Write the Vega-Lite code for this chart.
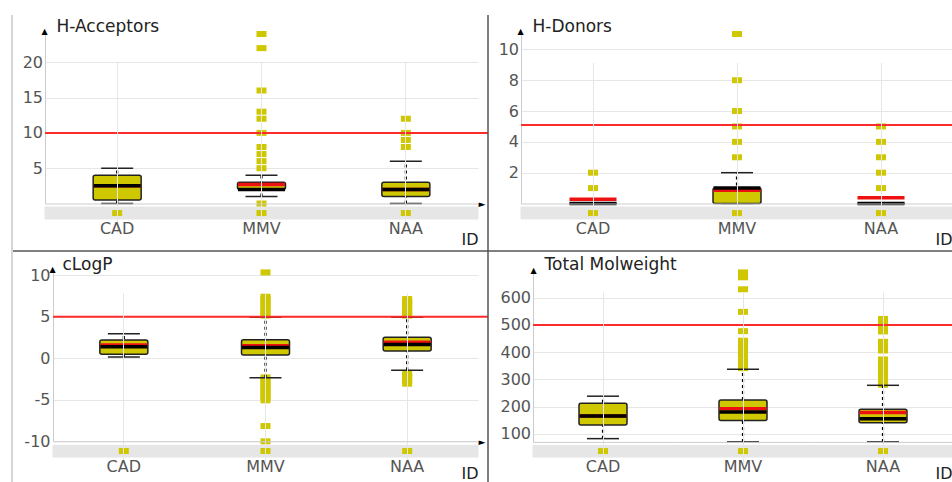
{
  "$schema": "https://vega.github.io/schema/vega-lite/v6.json",
  "padding": {"left": 11, "top": 14, "right": 0, "bottom": 0},
  "config": {
    "view": {"stroke": null},
    "font": "DejaVu Sans",
    "axis": {
      "labelFont": "DejaVu Sans", "labelFontSize": 16, "labelColor": "#555555",
      "titleFont": "DejaVu Sans", "titleFontWeight": "normal", "titleColor": "#222222", "titleFontSize": 17,
      "domainColor": "#cccccc", "domainWidth": 1, "gridColor": "#e6e6e6", "gridWidth": 1,
      "ticks": false, "tickSize": 0, "labelFlush": false, "labelOverlap": false
    }
  },
  "datasets": {
    "ids": [{"ID": "CAD"}, {"ID": "MMV"}, {"ID": "NAA"}],
    "stats": [
      {"p": "acc", "ID": "CAD", "lo": 0, "q1": 0.5, "med": 2.5, "mean": 2.5, "q3": 4, "hi": 5},
      {"p": "acc", "ID": "MMV", "lo": 1, "q1": 2, "med": 2, "mean": 2.7, "q3": 3, "hi": 4},
      {"p": "acc", "ID": "NAA", "lo": 0, "q1": 1, "med": 2, "mean": 2, "q3": 3, "hi": 6},
      {"p": "don", "ID": "CAD", "lo": 0, "q1": 0, "med": 0, "mean": 0.27, "q3": 0, "hi": 0},
      {"p": "don", "ID": "MMV", "lo": 0, "q1": 0, "med": 1, "mean": 0.86, "q3": 1, "hi": 2},
      {"p": "don", "ID": "NAA", "lo": 0, "q1": 0, "med": 0, "mean": 0.38, "q3": 0, "hi": 0},
      {"p": "logp", "ID": "CAD", "lo": 0.15, "q1": 0.48, "med": 1.4, "mean": 1.6, "q3": 2.2, "hi": 2.95},
      {"p": "logp", "ID": "MMV", "lo": -2.35, "q1": 0.4, "med": 1.3, "mean": 1.5, "q3": 2.25, "hi": 4.95},
      {"p": "logp", "ID": "NAA", "lo": -1.45, "q1": 0.88, "med": 1.65, "mean": 1.95, "q3": 2.55, "hi": 4.95},
      {"p": "mw", "ID": "CAD", "lo": 82, "q1": 132, "med": 165, "mean": 165, "q3": 212, "hi": 238},
      {"p": "mw", "ID": "MMV", "lo": 70, "q1": 149, "med": 180, "mean": 192, "q3": 224, "hi": 337},
      {"p": "mw", "ID": "NAA", "lo": 70, "q1": 140, "med": 155, "mean": 178, "q3": 190, "hi": 278}
    ],
    "outl": [
      {"p": "acc", "ID": "MMV", "v": 0}, {"p": "acc", "ID": "MMV", "v": 5}, {"p": "acc", "ID": "MMV", "v": 6},
      {"p": "acc", "ID": "MMV", "v": 7}, {"p": "acc", "ID": "MMV", "v": 8}, {"p": "acc", "ID": "MMV", "v": 10},
      {"p": "acc", "ID": "MMV", "v": 12}, {"p": "acc", "ID": "MMV", "v": 13}, {"p": "acc", "ID": "MMV", "v": 16},
      {"p": "acc", "ID": "MMV", "v": 22}, {"p": "acc", "ID": "MMV", "v": 24},
      {"p": "acc", "ID": "NAA", "v": 8}, {"p": "acc", "ID": "NAA", "v": 9}, {"p": "acc", "ID": "NAA", "v": 10},
      {"p": "acc", "ID": "NAA", "v": 12},
      {"p": "don", "ID": "CAD", "v": 1}, {"p": "don", "ID": "CAD", "v": 2},
      {"p": "don", "ID": "MMV", "v": 3}, {"p": "don", "ID": "MMV", "v": 4}, {"p": "don", "ID": "MMV", "v": 5},
      {"p": "don", "ID": "MMV", "v": 6}, {"p": "don", "ID": "MMV", "v": 8}, {"p": "don", "ID": "MMV", "v": 11},
      {"p": "don", "ID": "NAA", "v": 1}, {"p": "don", "ID": "NAA", "v": 2}, {"p": "don", "ID": "NAA", "v": 3},
      {"p": "don", "ID": "NAA", "v": 4}, {"p": "don", "ID": "NAA", "v": 5},
      {"p": "logp", "ID": "MMV", "v": 5.15}, {"p": "logp", "ID": "MMV", "v": 5.45}, {"p": "logp", "ID": "MMV", "v": 5.75},
      {"p": "logp", "ID": "MMV", "v": 6.05}, {"p": "logp", "ID": "MMV", "v": 6.35}, {"p": "logp", "ID": "MMV", "v": 6.65},
      {"p": "logp", "ID": "MMV", "v": 6.95}, {"p": "logp", "ID": "MMV", "v": 7.2}, {"p": "logp", "ID": "MMV", "v": 7.42},
      {"p": "logp", "ID": "MMV", "v": 10.35},
      {"p": "logp", "ID": "MMV", "v": -2.3}, {"p": "logp", "ID": "MMV", "v": -2.6}, {"p": "logp", "ID": "MMV", "v": -2.9},
      {"p": "logp", "ID": "MMV", "v": -3.2}, {"p": "logp", "ID": "MMV", "v": -3.5}, {"p": "logp", "ID": "MMV", "v": -3.8},
      {"p": "logp", "ID": "MMV", "v": -4.1}, {"p": "logp", "ID": "MMV", "v": -4.4}, {"p": "logp", "ID": "MMV", "v": -4.7},
      {"p": "logp", "ID": "MMV", "v": -5.06}, {"p": "logp", "ID": "MMV", "v": -8.16}, {"p": "logp", "ID": "MMV", "v": -10},
      {"p": "logp", "ID": "NAA", "v": 5.15}, {"p": "logp", "ID": "NAA", "v": 5.45}, {"p": "logp", "ID": "NAA", "v": 5.75},
      {"p": "logp", "ID": "NAA", "v": 6.05}, {"p": "logp", "ID": "NAA", "v": 6.35}, {"p": "logp", "ID": "NAA", "v": 6.65},
      {"p": "logp", "ID": "NAA", "v": 6.9}, {"p": "logp", "ID": "NAA", "v": 7.14},
      {"p": "logp", "ID": "NAA", "v": -1.77}, {"p": "logp", "ID": "NAA", "v": -2.1}, {"p": "logp", "ID": "NAA", "v": -2.4},
      {"p": "logp", "ID": "NAA", "v": -2.75}, {"p": "logp", "ID": "NAA", "v": -3.06},
      {"p": "mw", "ID": "MMV", "v": 341}, {"p": "mw", "ID": "MMV", "v": 356}, {"p": "mw", "ID": "MMV", "v": 371},
      {"p": "mw", "ID": "MMV", "v": 386}, {"p": "mw", "ID": "MMV", "v": 401}, {"p": "mw", "ID": "MMV", "v": 416},
      {"p": "mw", "ID": "MMV", "v": 431}, {"p": "mw", "ID": "MMV", "v": 442}, {"p": "mw", "ID": "MMV", "v": 477},
      {"p": "mw", "ID": "MMV", "v": 548}, {"p": "mw", "ID": "MMV", "v": 631}, {"p": "mw", "ID": "MMV", "v": 675},
      {"p": "mw", "ID": "MMV", "v": 684}, {"p": "mw", "ID": "MMV", "v": 693},
      {"p": "mw", "ID": "NAA", "v": 280}, {"p": "mw", "ID": "NAA", "v": 295}, {"p": "mw", "ID": "NAA", "v": 310},
      {"p": "mw", "ID": "NAA", "v": 325}, {"p": "mw", "ID": "NAA", "v": 340}, {"p": "mw", "ID": "NAA", "v": 356},
      {"p": "mw", "ID": "NAA", "v": 373}, {"p": "mw", "ID": "NAA", "v": 406}, {"p": "mw", "ID": "NAA", "v": 421},
      {"p": "mw", "ID": "NAA", "v": 438}, {"p": "mw", "ID": "NAA", "v": 476}, {"p": "mw", "ID": "NAA", "v": 491},
      {"p": "mw", "ID": "NAA", "v": 506}, {"p": "mw", "ID": "NAA", "v": 522}
    ]
  },
  "columns": 3,
  "spacing": 0,
  "bounds": "flush",
  "resolve": {"scale": {"x": "independent", "y": "independent"}},
  "concat": [
    {
      "width": 1, "height": 236,
      "data": {"values": []},
      "mark": "point",
      "view": {"stroke": "#c8c8c8", "strokeWidth": 1.5, "strokeDash": [0, 238, 236]}
    },
    {
      "width": 475, "height": 236,
      "view": {"stroke": "#555555", "strokeWidth": 1.5, "strokeDash": [0, 711, 475, 236]},
      "resolve": {"axis": {"x": "independent", "y": "independent"}},
      "layer": [
        {
          "data": {"name": "ids"},
          "mark": {"type": "rect", "color": "#e6e6e6", "stroke": "#e6e6e6", "strokeWidth": 1},
          "encoding": {
            "x": {"field": "ID", "type": "nominal",
              "scale": {"type": "band", "domain": ["CAD", "MMV", "NAA"], "range": [32, 465], "paddingInner": 0, "paddingOuter": 0},
              "axis": {"orient": "bottom", "offset": -47.5, "grid": true, "bandPosition": 0.5, "labelAngle": 0, "labelPadding": 16.5,
                "title": "ID", "titleFontSize": 16, "titleFontWeight": "normal", "titleX": 465, "titleY": 40.5, "titleAlign": "right", "titleBaseline": "alphabetic"}},
            "y": {"datum": -0.5, "type": "quantitative",
              "scale": {"domain": [0, 24], "range": [188.5, 19], "nice": false, "zero": false},
              "axis": {"orient": "left", "offset": -32, "values": [5, 10, 15, 20], "grid": true, "labelPadding": 2.5,
                "title": "H-Acceptors", "titleFontWeight": "normal", "titleAngle": 0, "titleX": 11, "titleY": 16, "titleAlign": "left", "titleBaseline": "alphabetic"}},
            "y2": {"datum": -2.2}
          }
        },
        {
          "data": {"name": "ids"},
          "mark": {"type": "point", "shape": "M-1,-0.6H1V0.6H-1Z", "size": 100, "filled": true, "color": "#cfc700", "opacity": 1},
          "encoding": {
            "x": {"field": "ID", "type": "nominal",
              "axis": {"orient": "bottom", "offset": -47.5, "labels": false, "domain": false, "grid": false,
                "title": "►", "titleFontWeight": "normal", "titleFontSize": 9, "titleColor": "#000000", "titleX": 465, "titleY": 0, "titleAlign": "left", "titleBaseline": "middle"}},
            "y": {"datum": -1.35, "type": "quantitative",
              "axis": {"orient": "left", "offset": -32, "labels": false, "domain": false, "grid": false,
                "title": "▲", "titleFontWeight": "normal", "titleFontSize": 8, "titleColor": "#000000", "titleAngle": 0, "titleX": -1, "titleY": 18.7, "titleAlign": "center", "titleBaseline": "alphabetic"}}
          }
        },
        {
          "data": {"name": "outl"},
          "transform": [{"filter": "datum.p == 'acc'"}],
          "mark": {"type": "point", "shape": "M-1,-0.6H1V0.6H-1Z", "size": 100, "filled": true, "color": "#cfc700", "opacity": 1},
          "encoding": {"x": {"field": "ID", "type": "nominal", "axis": null}, "y": {"field": "v", "type": "quantitative", "axis": null}}
        },
        {
          "data": {"name": "stats"},
          "transform": [{"filter": "datum.p == 'acc'"}],
          "layer": [
            {"mark": {"type": "rule", "color": "#000000", "strokeWidth": 2.2, "strokeDash": [3, 3]},
             "encoding": {"x": {"field": "ID", "type": "nominal", "axis": null}, "y": {"field": "lo", "type": "quantitative", "axis": null}, "y2": {"field": "hi"}}},
            {"mark": {"type": "tick", "orient": "horizontal", "size": 32, "thickness": 1.5, "color": "#222222", "opacity": 1},
             "encoding": {"x": {"field": "ID", "type": "nominal", "axis": null}, "y": {"field": "lo", "type": "quantitative", "axis": null}}},
            {"mark": {"type": "tick", "orient": "horizontal", "size": 32, "thickness": 1.5, "color": "#222222", "opacity": 1},
             "encoding": {"x": {"field": "ID", "type": "nominal", "axis": null}, "y": {"field": "hi", "type": "quantitative", "axis": null}}},
            {"mark": {"type": "bar", "width": 48, "fill": "#cfc700", "stroke": "#222222", "strokeWidth": 1.5, "cornerRadius": 2},
             "encoding": {"x": {"field": "ID", "type": "nominal", "axis": null}, "y": {"field": "q1", "type": "quantitative", "axis": null}, "y2": {"field": "q3"}}},
            {"mark": {"type": "tick", "orient": "horizontal", "size": 47, "thickness": 3.5, "color": "#ee1111", "opacity": 1},
             "encoding": {"x": {"field": "ID", "type": "nominal", "axis": null}, "y": {"field": "mean", "type": "quantitative", "axis": null}}},
            {"mark": {"type": "tick", "orient": "horizontal", "size": 47, "thickness": 3.5, "color": "#000000", "opacity": 1},
             "encoding": {"x": {"field": "ID", "type": "nominal", "axis": null}, "y": {"field": "med", "type": "quantitative", "axis": null}}}
          ]
        },
        {
          "data": {"values": [{"ID": "CAD"}]},
          "mark": {"type": "rule", "color": "#ff2b2b", "strokeWidth": 2},
          "encoding": {
            "x": {"field": "ID", "type": "nominal", "bandPosition": 0, "axis": null},
            "x2": {"value": "width"},
            "y": {"datum": 10, "type": "quantitative", "axis": null}
          }
        }
      ]
    },
    {
      "width": 465, "height": 236,
      "view": {"stroke": "#555555", "strokeWidth": 1.5, "strokeDash": [0, 701, 701]},
      "resolve": {"axis": {"x": "independent", "y": "independent"}},
      "layer": [
        {
          "data": {"name": "ids"},
          "mark": {"type": "rect", "color": "#e6e6e6", "stroke": "#e6e6e6", "strokeWidth": 1},
          "encoding": {
            "x": {"field": "ID", "type": "nominal",
              "scale": {"type": "band", "domain": ["CAD", "MMV", "NAA"], "range": [33, 465], "paddingInner": 0, "paddingOuter": 0},
              "axis": {"orient": "bottom", "offset": -47.5, "grid": true, "bandPosition": 0.5, "labelAngle": 0, "labelPadding": 16.5,
                "title": "ID", "titleFontSize": 16, "titleFontWeight": "normal", "titleX": 464, "titleY": 40.5, "titleAlign": "right", "titleBaseline": "alphabetic"}},
            "y": {"datum": -0.23, "type": "quantitative",
              "scale": {"domain": [0, 11], "range": [188.5, 19], "nice": false, "zero": false},
              "axis": {"orient": "left", "offset": -33, "values": [2, 4, 6, 8, 10], "grid": true, "labelPadding": 2.5,
                "title": "H-Donors", "titleFontWeight": "normal", "titleAngle": 0, "titleX": 11, "titleY": 16, "titleAlign": "left", "titleBaseline": "alphabetic"}},
            "y2": {"datum": -1.0}
          }
        },
        {
          "data": {"name": "ids"},
          "mark": {"type": "point", "shape": "M-1,-0.6H1V0.6H-1Z", "size": 100, "filled": true, "color": "#cfc700", "opacity": 1},
          "encoding": {
            "x": {"field": "ID", "type": "nominal", "axis": null},
            "y": {"datum": -0.62, "type": "quantitative",
              "axis": {"orient": "left", "offset": -33, "labels": false, "domain": false, "grid": false,
                "title": "▲", "titleFontWeight": "normal", "titleFontSize": 8, "titleColor": "#000000", "titleAngle": 0, "titleX": -1, "titleY": 18.7, "titleAlign": "center", "titleBaseline": "alphabetic"}}
          }
        },
        {
          "data": {"name": "outl"},
          "transform": [{"filter": "datum.p == 'don'"}],
          "mark": {"type": "point", "shape": "M-1,-0.6H1V0.6H-1Z", "size": 100, "filled": true, "color": "#cfc700", "opacity": 1},
          "encoding": {"x": {"field": "ID", "type": "nominal", "axis": null}, "y": {"field": "v", "type": "quantitative", "axis": null}}
        },
        {
          "data": {"name": "stats"},
          "transform": [{"filter": "datum.p == 'don'"}],
          "layer": [
            {"mark": {"type": "rule", "color": "#000000", "strokeWidth": 2.2, "strokeDash": [3, 3]},
             "encoding": {"x": {"field": "ID", "type": "nominal", "axis": null}, "y": {"field": "lo", "type": "quantitative", "axis": null}, "y2": {"field": "hi"}}},
            {"mark": {"type": "tick", "orient": "horizontal", "size": 32, "thickness": 1.5, "color": "#222222", "opacity": 1},
             "encoding": {"x": {"field": "ID", "type": "nominal", "axis": null}, "y": {"field": "lo", "type": "quantitative", "axis": null}}},
            {"mark": {"type": "tick", "orient": "horizontal", "size": 32, "thickness": 1.5, "color": "#222222", "opacity": 1},
             "encoding": {"x": {"field": "ID", "type": "nominal", "axis": null}, "y": {"field": "hi", "type": "quantitative", "axis": null}}},
            {"mark": {"type": "bar", "width": 48, "fill": "#cfc700", "stroke": "#222222", "strokeWidth": 1.5, "cornerRadius": 2},
             "encoding": {"x": {"field": "ID", "type": "nominal", "axis": null}, "y": {"field": "q1", "type": "quantitative", "axis": null}, "y2": {"field": "q3"}}},
            {"mark": {"type": "tick", "orient": "horizontal", "size": 47, "thickness": 3.5, "color": "#ee1111", "opacity": 1},
             "encoding": {"x": {"field": "ID", "type": "nominal", "axis": null}, "y": {"field": "mean", "type": "quantitative", "axis": null}}},
            {"mark": {"type": "tick", "orient": "horizontal", "size": 47, "thickness": 3.5, "color": "#000000", "opacity": 1},
             "encoding": {"x": {"field": "ID", "type": "nominal", "axis": null}, "y": {"field": "med", "type": "quantitative", "axis": null}}}
          ]
        },
        {
          "data": {"values": [{"ID": "CAD"}]},
          "mark": {"type": "rule", "color": "#ff2b2b", "strokeWidth": 2},
          "encoding": {
            "x": {"field": "ID", "type": "nominal", "bandPosition": 0, "axis": null},
            "x2": {"value": "width"},
            "y": {"datum": 5.1, "type": "quantitative", "axis": null}
          }
        }
      ]
    },
    {
      "width": 1, "height": 232,
      "data": {"values": []},
      "mark": "point",
      "view": {"stroke": "#c8c8c8", "strokeWidth": 1.5, "strokeDash": [0, 234, 232]}
    },
    {
      "width": 475, "height": 232,
      "resolve": {"axis": {"x": "independent", "y": "independent"}},
      "layer": [
        {
          "data": {"name": "ids"},
          "mark": {"type": "rect", "color": "#e6e6e6", "stroke": "#e6e6e6", "strokeWidth": 1},
          "encoding": {
            "x": {"field": "ID", "type": "nominal",
              "scale": {"type": "band", "domain": ["CAD", "MMV", "NAA"], "range": [40, 465], "paddingInner": 0, "paddingOuter": 0},
              "axis": {"orient": "bottom", "offset": -41.7, "grid": true, "bandPosition": 0.5, "labelAngle": 0, "labelPadding": 17,
                "title": "ID", "titleFontSize": 16, "titleFontWeight": "normal", "titleX": 465, "titleY": 37.2, "titleAlign": "right", "titleBaseline": "alphabetic"}},
            "y": {"datum": -10.48, "type": "quantitative",
              "scale": {"domain": [-10, 10.4], "range": [190.3, 21], "nice": false, "zero": false},
              "axis": {"orient": "left", "offset": -40, "values": [-10, -5, 0, 5, 10], "labelExpr": "'' + datum.value", "grid": true, "labelPadding": 3,
                "title": "cLogP", "titleFontWeight": "normal", "titleAngle": 0, "titleX": 9, "titleY": 18, "titleAlign": "left", "titleBaseline": "alphabetic"}},
            "y2": {"datum": -11.9}
          }
        },
        {
          "data": {"name": "ids"},
          "mark": {"type": "point", "shape": "M-1,-0.6H1V0.6H-1Z", "size": 100, "filled": true, "color": "#cfc700", "opacity": 1},
          "encoding": {
            "x": {"field": "ID", "type": "nominal",
              "axis": {"orient": "bottom", "offset": -41.7, "labels": false, "domain": false, "grid": false,
                "title": "►", "titleFontWeight": "normal", "titleFontSize": 9, "titleColor": "#000000", "titleX": 465, "titleY": 0, "titleAlign": "left", "titleBaseline": "middle"}},
            "y": {"datum": -11.17, "type": "quantitative",
              "axis": {"orient": "left", "offset": -40, "labels": false, "domain": false, "grid": false,
                "title": "▲", "titleFontWeight": "normal", "titleFontSize": 8, "titleColor": "#000000", "titleAngle": 0, "titleX": -1, "titleY": 20, "titleAlign": "center", "titleBaseline": "alphabetic"}}
          }
        },
        {
          "data": {"name": "outl"},
          "transform": [{"filter": "datum.p == 'logp'"}],
          "mark": {"type": "point", "shape": "M-1,-0.6H1V0.6H-1Z", "size": 100, "filled": true, "color": "#cfc700", "opacity": 1},
          "encoding": {"x": {"field": "ID", "type": "nominal", "axis": null}, "y": {"field": "v", "type": "quantitative", "axis": null}}
        },
        {
          "data": {"name": "stats"},
          "transform": [{"filter": "datum.p == 'logp'"}],
          "layer": [
            {"mark": {"type": "rule", "color": "#000000", "strokeWidth": 2.2, "strokeDash": [3, 3]},
             "encoding": {"x": {"field": "ID", "type": "nominal", "axis": null}, "y": {"field": "lo", "type": "quantitative", "axis": null}, "y2": {"field": "hi"}}},
            {"mark": {"type": "tick", "orient": "horizontal", "size": 32, "thickness": 1.5, "color": "#222222", "opacity": 1},
             "encoding": {"x": {"field": "ID", "type": "nominal", "axis": null}, "y": {"field": "lo", "type": "quantitative", "axis": null}}},
            {"mark": {"type": "tick", "orient": "horizontal", "size": 32, "thickness": 1.5, "color": "#222222", "opacity": 1},
             "encoding": {"x": {"field": "ID", "type": "nominal", "axis": null}, "y": {"field": "hi", "type": "quantitative", "axis": null}}},
            {"mark": {"type": "bar", "width": 48, "fill": "#cfc700", "stroke": "#222222", "strokeWidth": 1.5, "cornerRadius": 2},
             "encoding": {"x": {"field": "ID", "type": "nominal", "axis": null}, "y": {"field": "q1", "type": "quantitative", "axis": null}, "y2": {"field": "q3"}}},
            {"mark": {"type": "tick", "orient": "horizontal", "size": 47, "thickness": 3.5, "color": "#ee1111", "opacity": 1},
             "encoding": {"x": {"field": "ID", "type": "nominal", "axis": null}, "y": {"field": "mean", "type": "quantitative", "axis": null}}},
            {"mark": {"type": "tick", "orient": "horizontal", "size": 47, "thickness": 3.5, "color": "#000000", "opacity": 1},
             "encoding": {"x": {"field": "ID", "type": "nominal", "axis": null}, "y": {"field": "med", "type": "quantitative", "axis": null}}}
          ]
        },
        {
          "data": {"values": [{"ID": "CAD"}]},
          "mark": {"type": "rule", "color": "#ff2b2b", "strokeWidth": 2},
          "encoding": {
            "x": {"field": "ID", "type": "nominal", "bandPosition": 0, "axis": null},
            "x2": {"value": "width"},
            "y": {"datum": 5, "type": "quantitative", "axis": null}
          }
        }
      ]
    },
    {
      "width": 465, "height": 232,
      "view": {"stroke": "#555555", "strokeWidth": 1.5, "strokeDash": [0, 1162, 232]},
      "resolve": {"axis": {"x": "independent", "y": "independent"}},
      "layer": [
        {
          "data": {"name": "ids"},
          "mark": {"type": "rect", "color": "#e6e6e6", "stroke": "#e6e6e6", "strokeWidth": 1},
          "encoding": {
            "x": {"field": "ID", "type": "nominal",
              "scale": {"type": "band", "domain": ["CAD", "MMV", "NAA"], "range": [45, 465], "paddingInner": 0, "paddingOuter": 0},
              "axis": {"orient": "bottom", "offset": -41.1, "grid": true, "bandPosition": 0.5, "labelAngle": 0, "labelPadding": 17,
                "title": "ID", "titleFontSize": 16, "titleFontWeight": "normal", "titleX": 464, "titleY": 36.8, "titleAlign": "right", "titleBaseline": "alphabetic"}},
            "y": {"datum": 57.4, "type": "quantitative",
              "scale": {"domain": [70, 700], "range": [190.9, 19.5], "nice": false, "zero": false},
              "axis": {"orient": "left", "offset": -45, "values": [100, 200, 300, 400, 500, 600], "grid": true, "labelPadding": 2.5,
                "title": "Total Molweight", "titleFontWeight": "normal", "titleAngle": 0, "titleX": 11, "titleY": 18.3, "titleAlign": "left", "titleBaseline": "alphabetic"}},
            "y2": {"datum": 14.3}
          }
        },
        {
          "data": {"name": "ids"},
          "mark": {"type": "point", "shape": "M-1,-0.6H1V0.6H-1Z", "size": 100, "filled": true, "color": "#cfc700", "opacity": 1},
          "encoding": {
            "x": {"field": "ID", "type": "nominal", "axis": null},
            "y": {"datum": 36.4, "type": "quantitative",
              "axis": {"orient": "left", "offset": -45, "labels": false, "domain": false, "grid": false,
                "title": "▲", "titleFontWeight": "normal", "titleFontSize": 8, "titleColor": "#000000", "titleAngle": 0, "titleX": 0, "titleY": 21, "titleAlign": "center", "titleBaseline": "alphabetic"}}
          }
        },
        {
          "data": {"name": "outl"},
          "transform": [{"filter": "datum.p == 'mw'"}],
          "mark": {"type": "point", "shape": "M-1,-0.6H1V0.6H-1Z", "size": 100, "filled": true, "color": "#cfc700", "opacity": 1},
          "encoding": {"x": {"field": "ID", "type": "nominal", "axis": null}, "y": {"field": "v", "type": "quantitative", "axis": null}}
        },
        {
          "data": {"name": "stats"},
          "transform": [{"filter": "datum.p == 'mw'"}],
          "layer": [
            {"mark": {"type": "rule", "color": "#000000", "strokeWidth": 2.2, "strokeDash": [3, 3]},
             "encoding": {"x": {"field": "ID", "type": "nominal", "axis": null}, "y": {"field": "lo", "type": "quantitative", "axis": null}, "y2": {"field": "hi"}}},
            {"mark": {"type": "tick", "orient": "horizontal", "size": 32, "thickness": 1.5, "color": "#222222", "opacity": 1},
             "encoding": {"x": {"field": "ID", "type": "nominal", "axis": null}, "y": {"field": "lo", "type": "quantitative", "axis": null}}},
            {"mark": {"type": "tick", "orient": "horizontal", "size": 32, "thickness": 1.5, "color": "#222222", "opacity": 1},
             "encoding": {"x": {"field": "ID", "type": "nominal", "axis": null}, "y": {"field": "hi", "type": "quantitative", "axis": null}}},
            {"mark": {"type": "bar", "width": 48, "fill": "#cfc700", "stroke": "#222222", "strokeWidth": 1.5, "cornerRadius": 2},
             "encoding": {"x": {"field": "ID", "type": "nominal", "axis": null}, "y": {"field": "q1", "type": "quantitative", "axis": null}, "y2": {"field": "q3"}}},
            {"mark": {"type": "tick", "orient": "horizontal", "size": 47, "thickness": 3.5, "color": "#ee1111", "opacity": 1},
             "encoding": {"x": {"field": "ID", "type": "nominal", "axis": null}, "y": {"field": "mean", "type": "quantitative", "axis": null}}},
            {"mark": {"type": "tick", "orient": "horizontal", "size": 47, "thickness": 3.5, "color": "#000000", "opacity": 1},
             "encoding": {"x": {"field": "ID", "type": "nominal", "axis": null}, "y": {"field": "med", "type": "quantitative", "axis": null}}}
          ]
        },
        {
          "data": {"values": [{"ID": "CAD"}]},
          "mark": {"type": "rule", "color": "#ff2b2b", "strokeWidth": 2},
          "encoding": {
            "x": {"field": "ID", "type": "nominal", "bandPosition": 0, "axis": null},
            "x2": {"value": "width"},
            "y": {"datum": 500, "type": "quantitative", "axis": null}
          }
        }
      ]
    }
  ]
}
